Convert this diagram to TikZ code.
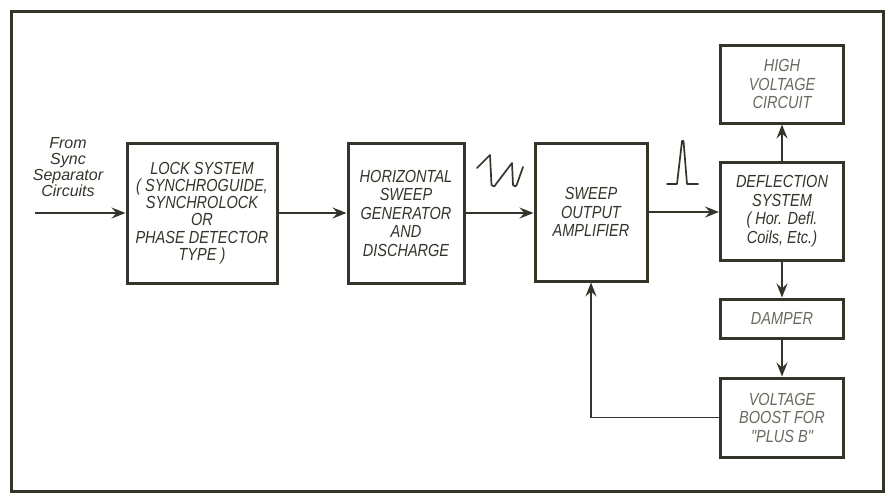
\documentclass[tikz,border=0pt]{standalone}
\usepackage{fontspec}
\newfontfamily\lettfont{Liberation Sans}[FakeStretch=0.83]
\newfontfamily\handfont{Liberation Sans}
\usetikzlibrary{arrows.meta}
\definecolor{ink}{HTML}{33352A}
\definecolor{faint}{HTML}{6A6A60}

\begin{document}
\begin{tikzpicture}[x=1pt,y=-1pt,
  blk/.style={draw=ink,line width=3pt,fill=white,align=center,inner sep=2pt,
    font=\lettfont\itshape\fontsize{17.5}{18.5}\selectfont,text=ink},
  feed/.style={draw=ink,line width=1.9pt,-{Stealth[length=14pt,width=11pt,inset=5pt]}},
  wave/.style={draw=ink,line width=1.7pt,line join=round,line cap=round}]
  \useasboundingbox (0,0) rectangle (890,496);
  \draw[ink,line width=3pt] (11,11) rectangle (883,491);

  \node[blk,minimum width=150pt,minimum height=140pt,
    font=\lettfont\itshape\fontsize{17.5}{17.2}\selectfont] (lock) at (202,213)
    {LOCK SYSTEM\\( SYNCHROGUIDE,\\SYNCHROLOCK\\OR\\PHASE DETECTOR\\TYPE )};
  \node[blk,minimum width=116pt,minimum height=140pt] (hsweep) at (406,213)
    {HORIZONTAL\\SWEEP\\GENERATOR\\AND\\DISCHARGE};
  \node[blk,minimum width=112pt,minimum height=138pt] (amp) at (591,212)
    {SWEEP\\OUTPUT\\AMPLIFIER};
  \node[blk,minimum width=123pt,minimum height=78pt,text=faint] (hv) at (782,84)
    {HIGH\\VOLTAGE\\CIRCUIT};
  \node[blk,minimum width=123pt,minimum height=98pt] (defl) at (782,211)
    {DEFLECTION\\SYSTEM\\( Hor. Defl.\\Coils, Etc.)};
  \node[blk,minimum width=123pt,minimum height=39pt,text=faint] (damper) at (782,318.5)
    {DAMPER};
  \node[blk,minimum width=123pt,minimum height=79pt,text=faint] (boost) at (782,417.5)
    {VOLTAGE\\BOOST FOR\\"PLUS B"};

  \node[font=\handfont\itshape\fontsize{16}{16}\selectfont,text=ink,align=center]
    (src) at (68,167) {From\\Sync\\Separator\\Circuits};
  \coordinate (in) at (35,213);

  \draw[feed] (in) -- (lock.west);
  \draw[feed] (lock) -- (hsweep);
  \draw[feed] (hsweep.east) -- (hsweep.east -| amp.west);
  \draw[feed] (amp.east) -- (amp.east -| defl.west);
  \draw[feed] (defl) -- (hv);
  \draw[feed] (defl) -- (damper);
  \draw[feed] (damper) -- (boost);
  \draw[feed] (boost.west) -| (amp.south);

  % waveforms
  \draw[wave] (477,168) -- (490,155) -- (491.5,185) .. controls (492.5,187) and (495,187) .. (496,184)
    -- (512,163) -- (513,185) .. controls (514,187) and (516,187) .. (517,184) -- (523,167);
  \draw[wave] (667,184) -- (677,184) -- (682,141) -- (683.5,141) -- (687,184) -- (698,184);
\end{tikzpicture}
\end{document}
